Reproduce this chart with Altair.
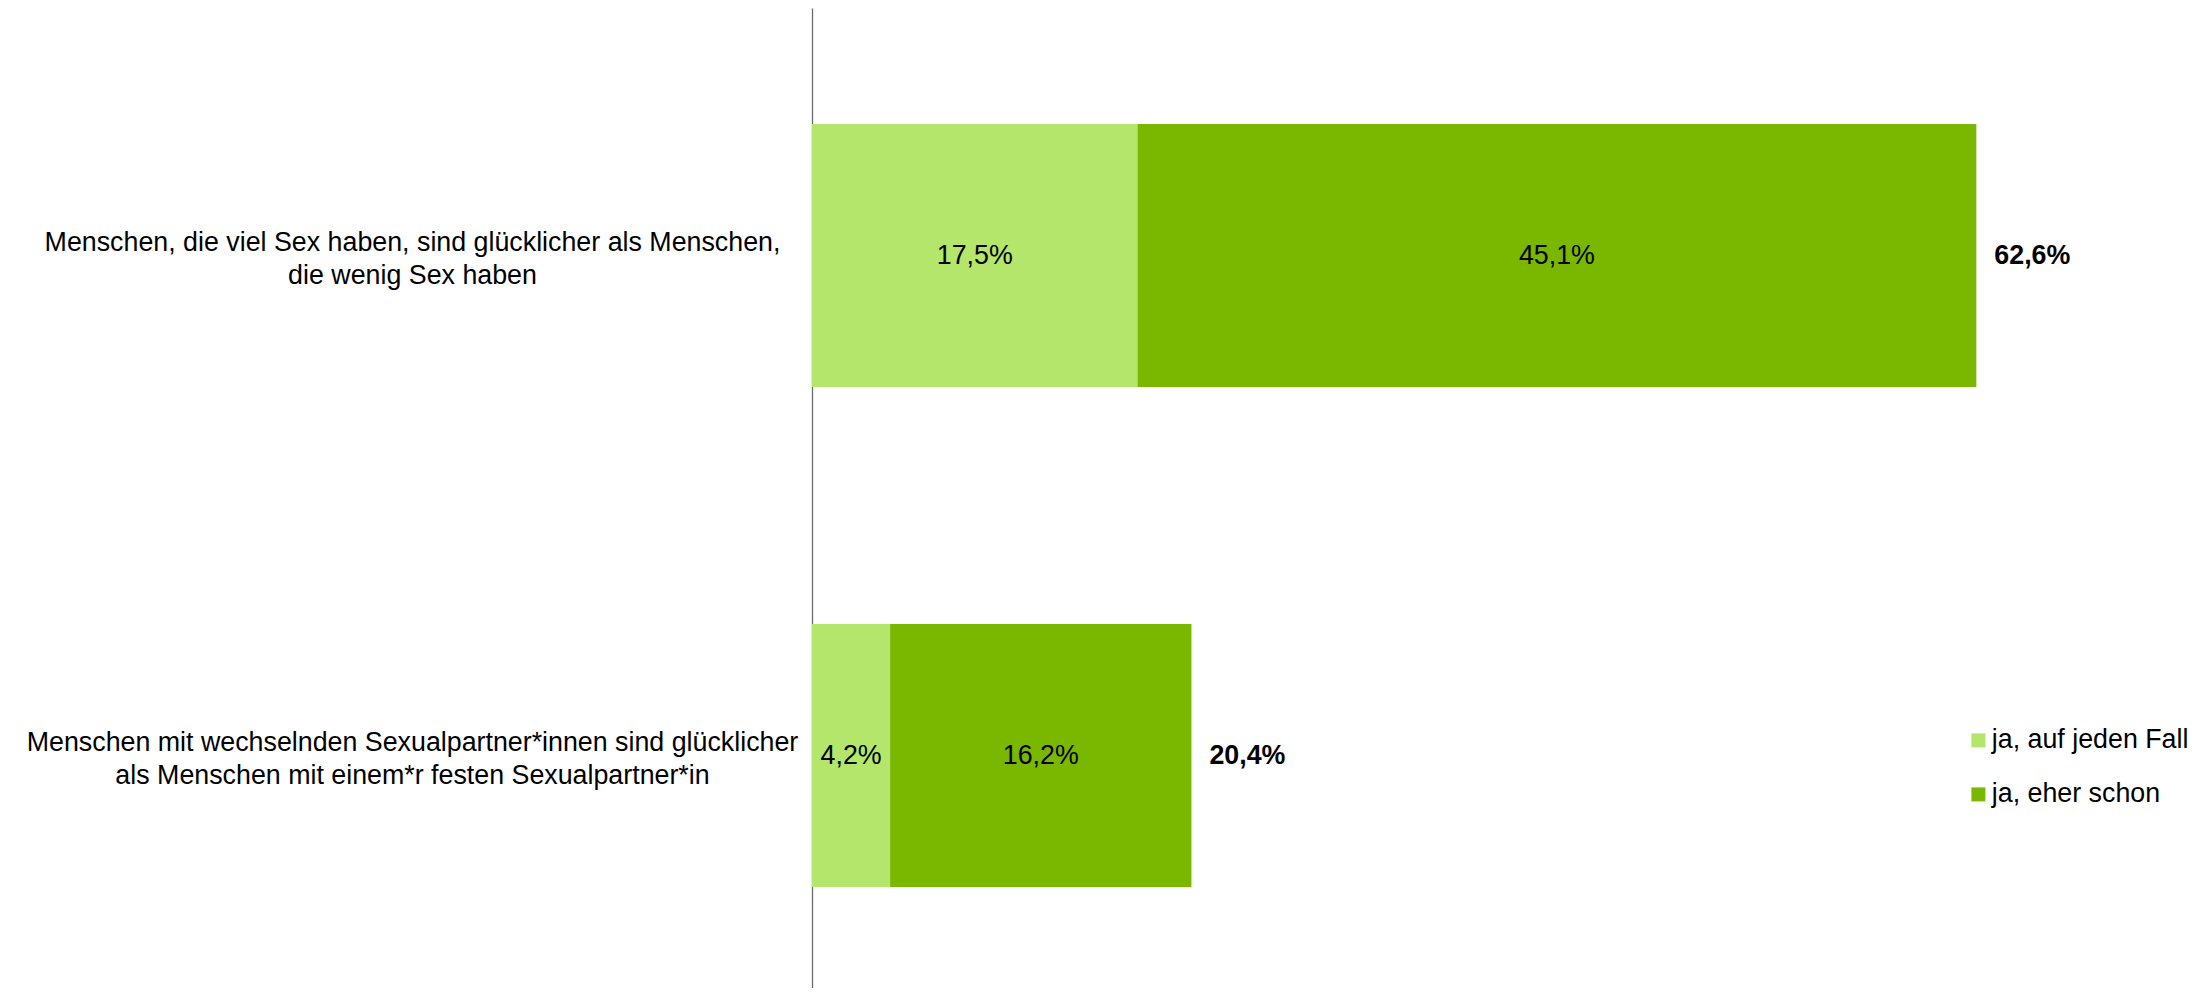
import altair as alt
import pandas as pd

categories = [
    ["Menschen, die viel Sex haben, sind glücklicher als Menschen,", "die wenig Sex haben"],
    ["Menschen mit wechselnden Sexualpartner*innen sind glücklicher", "als Menschen mit einem*r festen Sexualpartner*in"],
]
series = ["ja, auf jeden Fall", "ja, eher schon"]
ja_auf_jeden_fall = [17.5, 4.2]
ja_eher_schon = [45.1, 16.2]
totals = [62.6, 20.4]
colors = ["#B3E66A", "#7AB800"]

cat_keys = ["|".join(c) for c in categories]
rows = []
for i, k in enumerate(cat_keys):
    rows.append({"cat": k, "series": series[0], "value": ja_auf_jeden_fall[i], "order": 0})
    rows.append({"cat": k, "series": series[1], "value": ja_eher_schon[i], "order": 1})
seg = pd.DataFrame(rows)
tot = pd.DataFrame({"cat": cat_keys, "total": totals})

FONT = "Liberation Sans"
FS = 26.8
fmt = "replace(format(datum.{f}, '.1f'), '.', ',') + '%'"

yscale = alt.Scale(paddingInner=0.474, paddingOuter=0.217, align=0.5346)
yaxis = alt.Axis(
    title=None, labelExpr="split(datum.label, '|')", labelAlign="center",
    labelBaseline="middle", labelPadding=400, labelLimit=1200, labelFontSize=FS,
    labelFont=FONT, labelColor="#000000", labelLineHeight=33, labelOffset=-13,
    ticks=False, tickSize=0, domainColor="#6b6b6b", domainWidth=1.3, grid=False,
)
yenc = alt.Y("cat:N", sort=cat_keys, scale=yscale, axis=yaxis)
xscale = alt.Scale(domain=[0, 70], nice=False, zero=True)

base = alt.Chart(seg).transform_stack(
    stack="value", groupby=["cat"], sort=[alt.SortField("order", order="ascending")], as_=["x0", "x1"]
).transform_calculate(
    mid="(datum.x0 + datum.x1) / 2", lbl=fmt.format(f="value")
)

bars = base.mark_bar().encode(
    x=alt.X("x0:Q", scale=xscale, axis=None),
    x2="x1:Q",
    y=yenc,
    color=alt.Color(
        "series:N",
        scale=alt.Scale(domain=series, range=colors),
        legend=alt.Legend(
            title=None, orient="none", legendX=1153, legendY=719, symbolType="square",
            symbolSize=196, labelFontSize=FS, labelFont=FONT, labelColor="#000000",
            labelOffset=0, labelLimit=500, rowPadding=26, symbolStrokeWidth=0, padding=0,
        ),
    ),
)

seg_text = base.mark_text(font=FONT, fontSize=FS, color="#000000", baseline="middle", align="center").encode(
    x=alt.X("mid:Q", scale=xscale, axis=None),
    y=yenc,
    text="lbl:N",
)

tot_text = alt.Chart(tot).transform_calculate(lbl=fmt.format(f="total")).mark_text(
    font=FONT, fontSize=FS, fontWeight="bold", color="#000000", baseline="middle", align="left", dx=18
).encode(
    x=alt.X("total:Q", scale=xscale, axis=None),
    y=yenc,
    text="lbl:N",
)

chart = alt.layer(bars, seg_text, tot_text).properties(
    width=1302, height=980,
    padding={"left": 804, "top": 0, "right": 75, "bottom": 0},
    autosize=alt.AutoSizeParams(type="none"),
    background="white",
).configure_view(strokeWidth=0, stroke="transparent")

chart.save("out.html", embed_options={"renderer": "svg", "actions": False})
